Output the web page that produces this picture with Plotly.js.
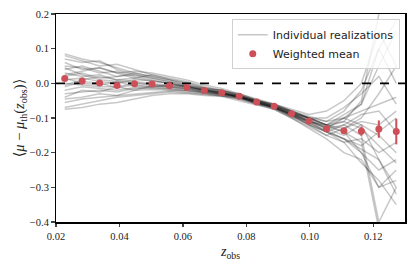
<!DOCTYPE html>
<html><head><meta charset="utf-8">
<script src="https://cdn.plot.ly/plotly-3.0.1.min.js"></script>
<style>body{margin:0;padding:0;background:#fff}#chart{width:415px;height:263px}</style>
</head><body><div id="chart"></div>
<script>
const zBins = [0.02275,0.02825,0.03375,0.03925,0.04475,0.05025,0.05575,0.06125,0.06675,0.07225,0.07775,0.08325,0.08875,0.09425,0.09975,0.10525,0.11075,0.11625,0.12175,0.12725];
const meanVals = [0.014,0.007,0.001,-0.006,-0.001,-0.002,-0.007,-0.012,-0.021,-0.027,-0.037,-0.054,-0.066,-0.088,-0.109,-0.131,-0.137,-0.138,-0.132,-0.139];
const meanErr = [0.003,0.003,0.003,0.003,0.003,0.003,0.003,0.003,0.003,0.003,0.003,0.003,0.003,0.003,0.004,0.005,0.007,0.013,0.025,0.037];
const r01 = [0.085,0.07,0.06,0.045,0.03,0.02,0.01,0.0,-0.015,-0.02,-0.035,-0.05,-0.06,-0.08,-0.1,-0.12,-0.1,-0.06,0.05,0.15];
const r02 = [0.07,0.06,0.065,0.04,0.025,0.015,0.005,-0.005,-0.015,-0.025,-0.04,-0.055,-0.07,-0.095,-0.12,-0.14,-0.16,-0.2,-0.3,-0.25];
const r03 = [0.05,0.045,0.03,0.035,0.02,0.01,0.0,-0.01,-0.02,-0.03,-0.04,-0.05,-0.065,-0.085,-0.1,-0.11,-0.08,-0.02,0.1,0.0];
const r04 = [0.04,0.05,0.035,0.02,0.025,0.015,0.005,-0.008,-0.018,-0.025,-0.035,-0.05,-0.068,-0.09,-0.105,-0.13,-0.15,-0.12,-0.22,-0.32];
const r05 = [0.03,0.02,0.025,0.01,0.015,0.005,0.0,-0.01,-0.02,-0.03,-0.038,-0.055,-0.065,-0.085,-0.11,-0.125,-0.14,-0.17,-0.42,-0.5];
const r06 = [0.02,0.03,0.015,0.02,0.03,0.02,0.01,-0.005,-0.015,-0.022,-0.03,-0.048,-0.06,-0.08,-0.1,-0.12,-0.11,-0.05,0.2,0.25];
const r07 = [0.01,0.015,0.005,0.0,0.01,0.008,0.0,-0.012,-0.022,-0.028,-0.04,-0.055,-0.07,-0.09,-0.11,-0.13,-0.12,-0.09,-0.08,-0.14];
const r08 = [0.0,-0.005,-0.01,-0.01,0.0,-0.005,-0.01,-0.015,-0.022,-0.03,-0.04,-0.058,-0.068,-0.09,-0.115,-0.14,-0.16,-0.19,-0.22,-0.3];
const r09 = [-0.01,0.005,0.0,-0.012,-0.005,-0.01,-0.012,-0.015,-0.025,-0.03,-0.037,-0.052,-0.063,-0.085,-0.1,-0.1,-0.07,-0.03,0.02,-0.06];
const r10 = [-0.02,-0.01,-0.015,-0.02,-0.012,-0.015,-0.015,-0.02,-0.028,-0.032,-0.042,-0.058,-0.072,-0.095,-0.12,-0.15,-0.17,-0.23,-0.28,-0.35];
const r11 = [-0.03,-0.025,-0.02,-0.025,-0.015,-0.012,-0.018,-0.022,-0.025,-0.03,-0.04,-0.055,-0.07,-0.088,-0.11,-0.13,-0.1,-0.12,-0.15,-0.2];
const r12 = [-0.045,-0.04,-0.03,-0.035,-0.02,-0.018,-0.02,-0.02,-0.028,-0.035,-0.045,-0.06,-0.075,-0.1,-0.125,-0.15,-0.13,-0.1,-0.03,0.05];
const r13 = [-0.055,-0.045,-0.04,-0.035,-0.03,-0.025,-0.022,-0.025,-0.03,-0.035,-0.042,-0.058,-0.07,-0.092,-0.115,-0.135,-0.16,-0.18,-0.14,-0.1];
const r14 = [-0.07,-0.06,-0.05,-0.04,-0.035,-0.03,-0.025,-0.028,-0.032,-0.036,-0.045,-0.06,-0.072,-0.095,-0.11,-0.12,-0.14,-0.2,-0.25,-0.22];
const r15 = [-0.075,-0.07,-0.06,-0.055,-0.045,-0.035,-0.03,-0.03,-0.035,-0.038,-0.05,-0.062,-0.075,-0.1,-0.13,-0.16,-0.2,-0.22,-0.3,-0.28];
const r16 = [0.06,0.04,0.045,0.03,0.035,0.03,0.02,0.01,-0.005,-0.015,-0.03,-0.045,-0.058,-0.075,-0.09,-0.08,-0.05,0.0,0.15,0.05];
const r17 = [0.045,0.025,0.01,0.005,0.0,-0.005,-0.008,-0.01,-0.018,-0.025,-0.035,-0.05,-0.065,-0.082,-0.105,-0.125,-0.11,-0.13,-0.18,-0.23];
const r18 = [0.015,0.0,-0.005,0.005,-0.008,-0.01,-0.005,-0.008,-0.02,-0.025,-0.04,-0.052,-0.068,-0.088,-0.1,-0.12,-0.09,-0.06,0.1,0.18];
const r19 = [-0.005,0.01,0.02,0.01,0.005,0.0,-0.005,-0.012,-0.02,-0.028,-0.036,-0.056,-0.066,-0.086,-0.11,-0.14,-0.12,-0.15,-0.4,-0.3];
const r20 = [0.025,0.035,0.045,0.03,0.015,0.025,0.012,0.002,-0.012,-0.02,-0.032,-0.048,-0.062,-0.08,-0.095,-0.11,-0.1,-0.08,-0.06,-0.04];
const r21 = [-0.04,-0.02,-0.025,-0.01,-0.02,-0.008,-0.01,-0.015,-0.025,-0.032,-0.04,-0.055,-0.07,-0.09,-0.12,-0.14,-0.17,-0.16,-0.2,-0.17];
const r22 = [0.08,0.065,0.05,0.055,0.04,0.025,0.015,0.005,-0.01,-0.02,-0.035,-0.05,-0.065,-0.08,-0.1,-0.12,-0.13,-0.11,-0.12,-0.08];
const realizations = [r01,r02,r03,r04,r05,r06,r07,r08,r09,r10,r11,r12,r13,r14,r15,r16,r17,r18,r19,r20,r21,r22];
const xTicks = [0.02,0.04,0.06,0.08,0.10,0.12];
const yTicks = [0.2,0.1,0.0,-0.1,-0.2,-0.3,-0.4];

const traces = realizations.map((r,i)=>({
  x: zBins, y: r, type:'scatter', mode:'lines',
  line:{color:'rgba(0,0,0,0.22)', width:1.5},
  name:'Individual realizations', legendgroup:'real', showlegend: i===0,
  hoverinfo:'skip'
}));
traces.push({
  x: zBins, y: meanVals, type:'scatter', mode:'markers',
  marker:{color:'#cd4f57', size:7},
  error_y:{type:'data', array:meanErr, color:'#cd4f57', thickness:2, width:0},
  name:'Weighted mean'
});

const serif = 'Liberation Serif, DejaVu Serif, serif';
const layout = {
  width:415, height:263,
  margin:{l:56, r:10, t:14, b:41},
  paper_bgcolor:'#fff', plot_bgcolor:'#fff',
  showlegend:true,
  legend:{x:0.985, y:0.975, xanchor:'right', yanchor:'top', bgcolor:'rgba(255,255,255,0.8)',
    bordercolor:'#d0d0d0', borderwidth:1, font:{family:'DejaVu Sans, sans-serif', size:11, color:'#222'},
    tracegroupgap:0},
  xaxis:{range:[0.02,0.13], tickvals:xTicks, tickformat:'.2f', ticks:'outside', ticklen:3.5, tickwidth:1.2,
    showline:true, linecolor:'#000', linewidth:1.5, mirror:true, showgrid:false, zeroline:false,
    tickfont:{family:serif, size:10.5, color:'#222'},
    title:{text:'<i>z</i><sub>obs</sub>', font:{family:serif, size:14, color:'#222'}, standoff:5}},
  yaxis:{range:[-0.4,0.2], tickvals:yTicks, tickformat:'.1f', ticks:'outside', ticklen:3.5, tickwidth:1.2,
    showline:true, linecolor:'#000', linewidth:1.5, mirror:true, showgrid:false, zeroline:false,
    tickfont:{family:serif, size:10.5, color:'#222'},
    title:{text:'⟨<i>μ</i> − <i>μ</i><sub>th</sub>(<i>z</i><sub>obs</sub>)⟩', font:{family:serif, size:14.5, color:'#222'}, standoff:2}},
  shapes:[{type:'line', xref:'paper', x0:0, x1:1, yref:'y', y0:0, y1:0,
    line:{color:'#000', width:1.6, dash:'dash'}, layer:'below'}]
};
Plotly.newPlot('chart', traces, layout, {displayModeBar:false, staticPlot:true});
</script></body></html>
